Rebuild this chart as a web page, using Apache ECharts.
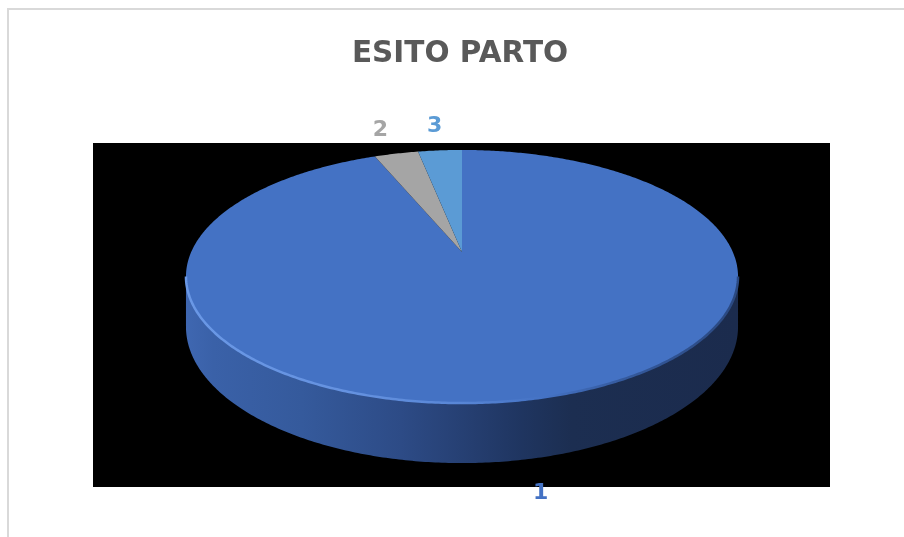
<!DOCTYPE html>
<html>
<head>
<meta charset="utf-8">
<script src="https://cdn.jsdelivr.net/npm/echarts@6/dist/echarts.min.js"></script>
<style>
  html, body { margin: 0; padding: 0; background: #ffffff; }
  #chart { width: 904px; height: 537px; }
</style>
</head>
<body>
<div id="chart"></div>
<script>
// Birth outcome categories and their counts
const categories = ['1', '2', '3'];
const counts = [91, 3, 3];
const sliceColors = ['#4472C4', '#A5A5A5', '#5B9BD5'];
const chartTitle = 'ESITO PARTO';

// Disc geometry: a tilted circle seen in perspective, with a cylinder wall
const CX = 462, CY = 252;        // projected centre of the disc
const RX = 270.8, RY = 121.8;    // horizontal / vertical radius factors
const PERSP = 0.1937;            // perspective strength (far edge shrinks)
const DEPTH = 48.4;              // wall thickness before perspective

const total = counts.reduce((s, v) => s + v, 0);
const TWO_PI = Math.PI * 2;

// theta measured clockwise from 12 o'clock
function topPoint(theta, r) {
  const u = Math.sin(theta) * r;
  const v = -Math.cos(theta) * r;
  const w = 1 - PERSP * v;
  return [CX + RX * u / w, CY + RY * v / w, w];
}
function basePoint(theta) {
  const p = topPoint(theta, 1);
  return [p[0], p[1] + DEPTH / p[2]];
}
function arc(a0, a1, fn) {
  const pts = [];
  const n = Math.max(2, Math.ceil(Math.abs(a1 - a0) / 0.01));
  for (let i = 0; i <= n; i++) {
    const p = fn(a0 + (a1 - a0) * i / n);
    pts.push([p[0], p[1]]);
  }
  return pts;
}

// silhouette of the wall: where the projected rim is widest
const wallStart = Math.acos(-PERSP);          // right side
const wallEnd = TWO_PI - Math.acos(-PERSP);   // left side

const wallFill = {
  type: 'linear', x: 186, y: 0, x2: 737, y2: 0, global: true,
  colorStops: [
    { offset: 0.00, color: '#3F67B1' },
    { offset: 0.05, color: '#3A61A8' },
    { offset: 0.21, color: '#355A9C' },
    { offset: 0.39, color: '#2D4B86' },
    { offset: 0.52, color: '#253E70' },
    { offset: 0.61, color: '#1F3560' },
    { offset: 0.70, color: '#1C2E51' },
    { offset: 1.00, color: '#1B2B4D' }
  ]
};
const rimStroke = {
  type: 'linear', x: 186, y: 0, x2: 737, y2: 0, global: true,
  colorStops: [
    { offset: 0.00, color: '#6A98E6' },
    { offset: 0.30, color: '#6592E0' },
    { offset: 0.50, color: '#5886D6' },
    { offset: 0.65, color: '#4472C4' },
    { offset: 0.80, color: '#34599C' },
    { offset: 1.00, color: '#2A4880' }
  ]
};

function renderSlice(params, api) {
  const idx = params.dataIndex;
  let before = 0;
  for (let i = 0; i < idx; i++) before += counts[i];
  const a0 = before / total * TWO_PI;
  const a1 = (before + api.value(0)) / total * TWO_PI;
  const mid = (a0 + a1) / 2;
  const color = sliceColors[idx];
  const children = [];

  // front wall of the cylinder for the part of this slice facing the viewer
  const s = Math.max(a0, wallStart), e = Math.min(a1, wallEnd);
  if (e > s) {
    const pts = arc(s, e, t => topPoint(t, 1)).concat(arc(e, s, basePoint));
    children.push({ type: 'polygon', shape: { points: pts }, style: { fill: wallFill }, z2: 1 });
  }

  // top face
  const face = [[CX, CY]].concat(arc(a0, a1, t => topPoint(t, 1)));
  children.push({ type: 'polygon', shape: { points: face }, style: { fill: color }, z2: 2 });

  // bevel highlight along the front rim
  if (e > s) {
    children.push({
      type: 'polyline', shape: { points: arc(s, e, t => topPoint(t, 1)) },
      style: { stroke: rimStroke, lineWidth: 2.5, fill: null }, z2: 3
    });
  }

  // category label outside the slice
  const v = -Math.cos(mid);
  let lx, ly;
  if (v > 0) {
    const b = basePoint(mid);
    lx = CX + (b[0] - CX) * 1.22;
    ly = b[1] + 34;
  } else {
    const p = topPoint(mid, 1.3);
    lx = p[0]; ly = p[1];
  }
  children.push({
    type: 'text', z2: 4,
    style: {
      text: categories[idx], x: lx, y: ly, align: 'center', verticalAlign: 'middle',
      fill: color, font: 'bold 22px "DejaVu Sans"'
    }
  });

  return { type: 'group', children: children };
}

const chart = echarts.init(document.getElementById('chart'), null, { renderer: 'canvas' });
chart.setOption({
  backgroundColor: '#ffffff',
  animation: false,
  graphic: [
    { type: 'rect', z: 0, shape: { x: 8, y: 9, width: 1000, height: 1000 },
      style: { fill: '#ffffff', stroke: '#D9D9D9', lineWidth: 2 } },
    { type: 'rect', z: 1, shape: { x: 93, y: 143, width: 737, height: 344 },
      style: { fill: '#000000' } },
    { type: 'text', z: 1, style: {
        text: chartTitle, x: 460, y: 54, align: 'center', verticalAlign: 'middle',
        fill: '#595959', font: 'bold 29.5px "DejaVu Sans"' } }
  ],
  series: [{
    type: 'custom',
    coordinateSystem: 'none',
    z: 10,
    renderItem: renderSlice,
    data: counts.map((c, i) => ({ name: categories[i], value: [c] }))
  }]
});
</script>
</body>
</html>
